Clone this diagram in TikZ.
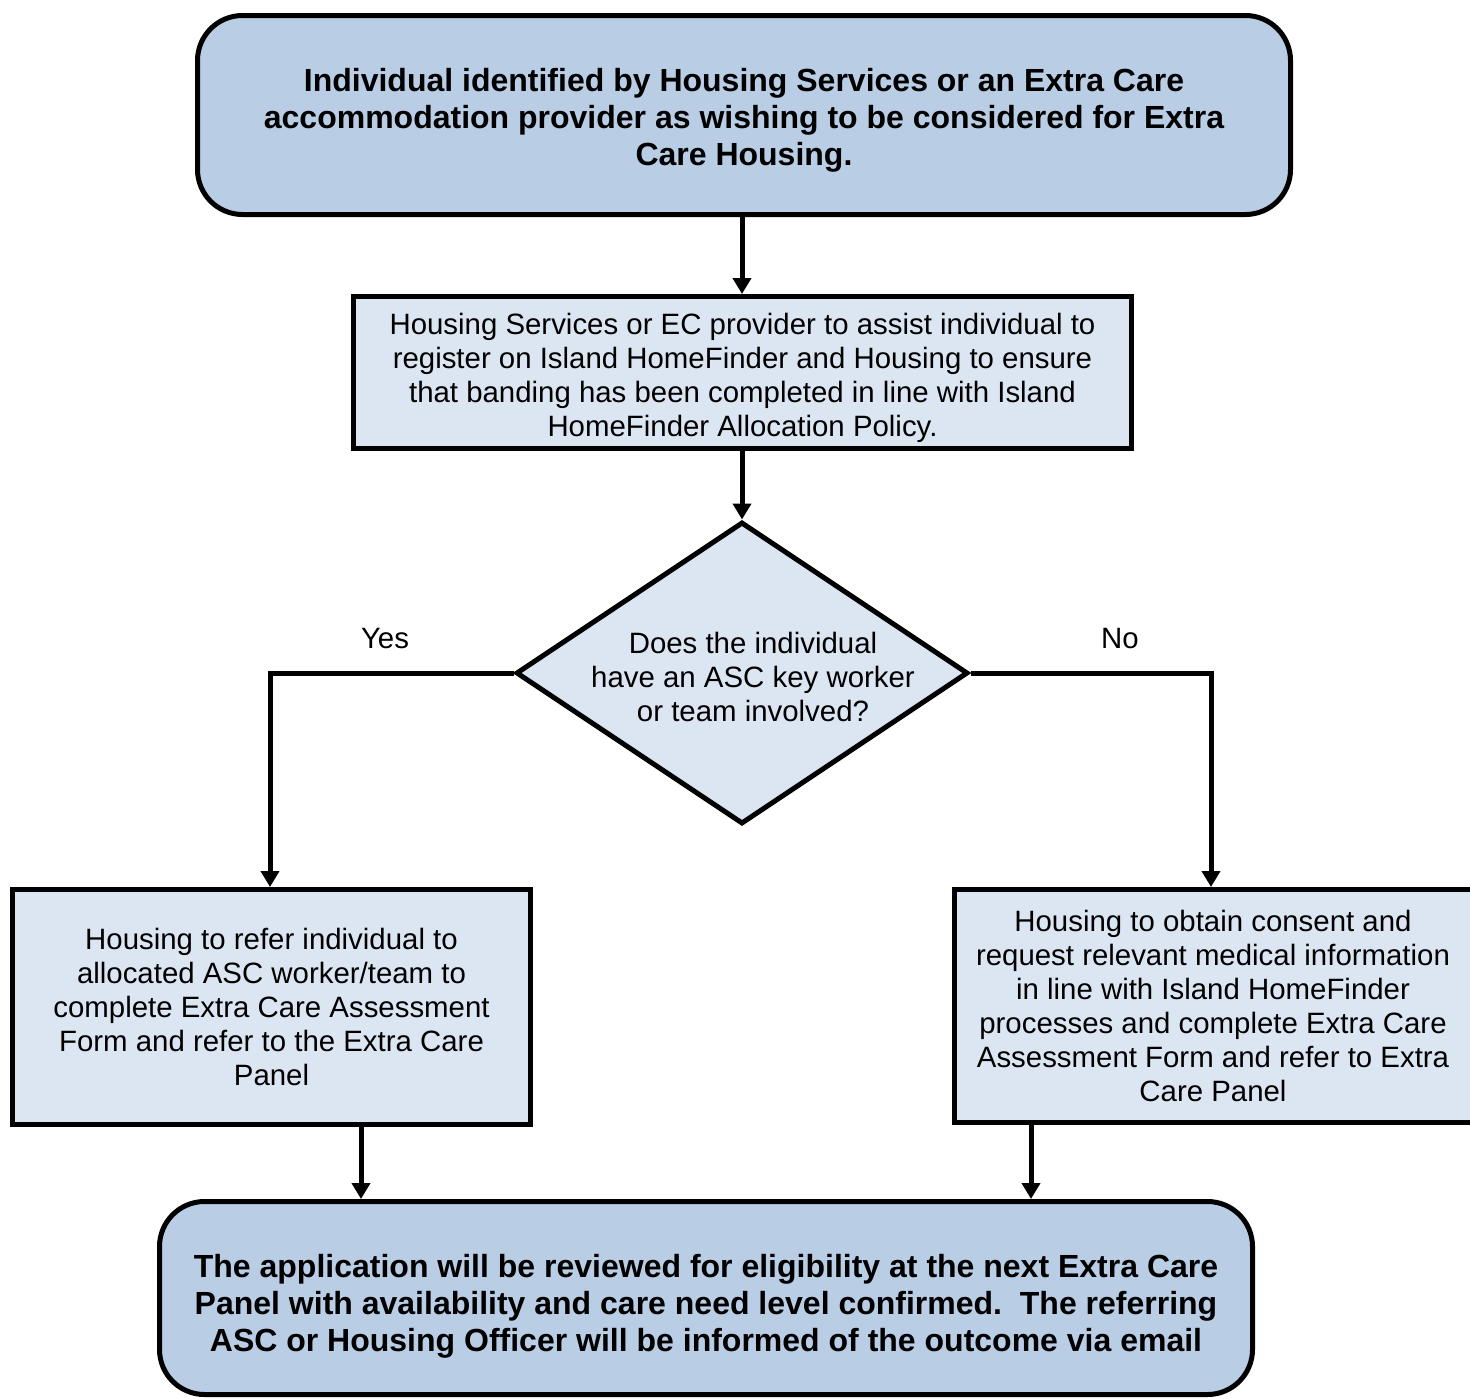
\documentclass[tikz,border=0pt]{standalone}
\usepackage{fontspec}
\setmainfont{Liberation Sans}
\usetikzlibrary{arrows.meta,shapes.geometric}
\definecolor{darkfill}{HTML}{B9CDE5}
\definecolor{lightfill}{HTML}{DCE6F2}
\begin{document}
\begin{tikzpicture}[x=1pt,y=-1pt,
  roundbox/.style={draw, line width=5pt, fill=darkfill, rounded corners=45pt, inner sep=0pt},
  plainbox/.style={draw, line width=5pt, fill=lightfill, inner sep=0pt, align=center, font=\fontsize{29.4}{34}\selectfont},
  boldtext/.style={inner sep=0pt, align=center, font=\bfseries\fontsize{32}{37}\selectfont},
  conn/.style={line width=5pt, -{Triangle[length=16pt,width=18pt]}},
  lbl/.style={font=\fontsize{29.4}{34}\selectfont, inner sep=0pt}]
\useasboundingbox (0,0) rectangle (1470,1398);

\node[roundbox, minimum width=1093pt, minimum height=199pt] (top) at (744,115) {};
\node[boldtext] (toptext) at (744,120)
  {Individual identified by Housing Services or an Extra Care\\accommodation provider as wishing to be considered for Extra\\Care Housing.};

\node[plainbox, minimum width=778pt, minimum height=152pt] (reg) at (742,372.5) {};
\node[lbl, align=center] (regtext) at (742.5,377.5)
  {Housing Services or EC provider to assist individual to\\register on Island HomeFinder and Housing to ensure\\that banding has been completed in line with Island\\HomeFinder Allocation Policy.};

\node[diamond, draw, line width=5pt, fill=lightfill, minimum width=452pt, minimum height=302pt, inner sep=0pt] (dia) at (742,673) {};
\node[lbl, align=center] (dtext) at (753,677) {Does the individual\\have an ASC key worker\\or team involved?};

\node[plainbox, minimum width=518pt, minimum height=235pt] (left) at (271.5,1007)
  {Housing to refer individual to\\allocated ASC worker/team to\\complete Extra Care Assessment\\Form and refer to the Extra Care\\Panel};

\node[plainbox, minimum width=523pt, minimum height=233pt] (right) at (1216,1006) {};
\node[lbl, align=center] (righttext) at (1213,1006)
  {Housing to obtain consent and\\request relevant medical information\\in line with Island HomeFinder\\processes and complete Extra Care\\Assessment Form and refer to Extra\\Care Panel};

\node[roundbox, minimum width=1093pt, minimum height=193pt] (bot) at (706,1298) {};
\node[boldtext] (bottext) at (706,1306)
  {The application will be reviewed for eligibility at the next Extra Care\\Panel with availability and care need level confirmed.\ \ The referring\\ASC or Housing Officer will be informed of the outcome via email};

\draw[conn] (reg.north |- top.south) -- (reg.north);
\draw[conn] (dia.north |- reg.south) -- (dia.north);
\draw[conn] (dia.west) -| ([xshift=-1.5pt]left.north);
\draw[conn] (dia.east) -| ([xshift=-5pt]right.north);
\draw[conn] ([xshift=89.5pt]left.south) -- ([xshift=89.5pt]left.south |- bot.north);
\draw[conn] ([xshift=-185pt]right.south) -- ([xshift=-185pt]right.south |- bot.north);

\node[lbl] (yes) at (385,639) {Yes};
\node[lbl] (no) at (1120,639) {No};
\end{tikzpicture}
\end{document}
